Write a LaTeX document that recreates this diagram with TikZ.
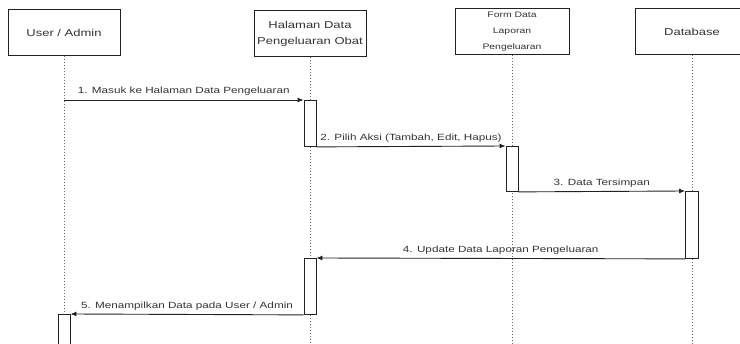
\documentclass[tikz,border=0pt]{standalone}
\usepackage{fontspec}
\setmainfont{Liberation Sans}[FakeStretch=1.3]
\usetikzlibrary{arrows.meta,positioning,calc}
\definecolor{linedark}{HTML}{222222}
\definecolor{lifegray}{HTML}{666666}
\definecolor{textgray}{HTML}{333333}
\tikzset{
  lifebox/.style={rectangle,draw=linedark,fill=white,line width=1pt,minimum width=112pt,minimum height=46pt,inner sep=1pt,align=center,font=\fontsize{10}{16}\selectfont,text=textgray},
  lifeline/.style={draw=lifegray,dash pattern=on 1pt off 2pt,line width=0.8pt},
  actbar/.style={rectangle,draw=linedark,fill=white,line width=0.9pt,minimum width=12pt,inner sep=0pt},
  msg/.style={-{Latex[length=6pt,width=5pt]},draw=linedark,line width=0.9pt},
  msglabel/.style={font=\fontsize{9}{11}\selectfont,text=textgray,above=3pt,inner sep=1pt}
}

\begin{document}
\begin{tikzpicture}[x=1pt,y=-1pt]
  \clip (0,0) rectangle (740,344);
  \node[lifebox] (user) at (64,32.5) {User / Admin};
  \node[lifebox] (page) at (310,33.5) {Halaman Data\\Pengeluaran Obat};
  \node[lifebox, minimum width=114pt, font=\fontsize{8}{16}\selectfont] (form) at (512,32) {Form Data\\Laporan\\Pengeluaran};
  \node[lifebox, minimum width=114pt] (db) at (692,32) {Database};
  \foreach \who in {user,page,form,db}
    \draw[lifeline] (\who.south) -- (\who.south |- 0,344);
  \node[actbar, minimum height=46pt, anchor=north] (act1) at (page.south |- 0,100) {};
  \node[actbar, minimum height=45pt, anchor=north] (act2) at (form.south |- 0,146) {};
  \node[actbar, minimum height=67pt, minimum width=13pt, anchor=north] (act3) at (db.south |- 0,191) {};
  \node[actbar, minimum height=56pt, anchor=north] (act4) at (page.south |- 0,258) {};
  \node[actbar, minimum height=40pt, anchor=north] (act5) at (user.south |- 0,314) {};
  \draw[msg] (user.south |- act1.north) -- (act1.north west) node[msglabel, midway] {1. Masuk ke Halaman Data Pengeluaran};
  \draw[msg] (act1.south east) -- (act2.north west) node[msglabel, midway] {2. Pilih Aksi (Tambah, Edit, Hapus)};
  \draw[msg] (act2.south east) -- (act3.north west) node[msglabel, midway] {3. Data Tersimpan};
  \draw[msg] (act3.south west) -- (act4.north east) node[msglabel, midway] {4. Update Data Laporan Pengeluaran};
  \draw[msg] (act4.south west) -- (act5.north east) node[msglabel, midway] {5. Menampilkan Data pada User / Admin};
\end{tikzpicture}
\end{document}
